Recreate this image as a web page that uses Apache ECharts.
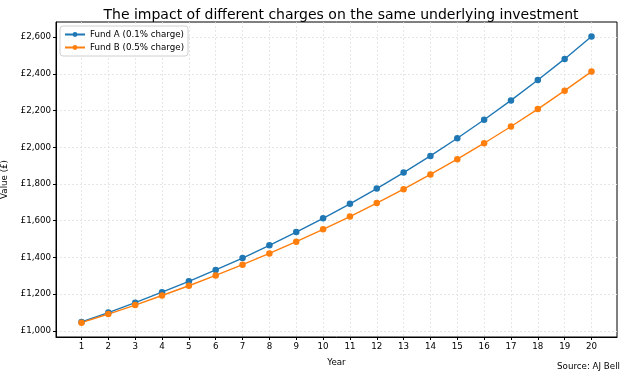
<!DOCTYPE html>
<html><head><meta charset="utf-8">
<script src="https://cdn.jsdelivr.net/npm/echarts@6/dist/echarts.min.js"></script>
<style>html,body{margin:0;padding:0;background:#fff}#c{width:626px;height:378px}</style>
</head><body><div id="c"></div>
<script>
const years = [1,2,3,4,5,6,7,8,9,10,11,12,13,14,15,16,17,18,19,20];
const fundA = [1049,1100,1154,1211,1270,1332,1397,1466,1538,1613,1692,1775,1862,1953,2049,2150,2255,2366,2481,2603];
const fundB = [1045,1092,1141,1193,1246,1302,1361,1422,1486,1553,1623,1696,1772,1852,1935,2022,2113,2208,2308,2412];
const yTicks = [1000,1200,1400,1600,1800,2000,2200,2400,2600];
const seriesNames = ['Fund A (0.1% charge)','Fund B (0.5% charge)'];
const font = 'DejaVu Sans';
const fs = 8.7;
const chart = echarts.init(document.getElementById('c'), null, {renderer:'canvas'});
const fmt = v => '£' + Math.round(v).toLocaleString('en-GB');
const gridLine = {show:true, lineStyle:{color:'#e0e0e0', type:[2,2], width:0.8}};
chart.setOption({
  animation:false,
  textStyle:{fontFamily:font},
  title:{text:'The impact of different charges on the same underlying investment', left:336, textAlign:'center', top:3,
    textStyle:{fontFamily:font, fontSize:14, fontWeight:'normal', color:'#000'}},
  graphic:[{type:'text', right:6, top:362, style:{text:'Source: AJ Bell', font:fs+'px DejaVu Sans', fill:'#000'}}],
  legend:{left:60, top:26, orient:'vertical', itemGap:4, itemWidth:20, itemHeight:6,
    backgroundColor:'rgba(255,255,255,0.8)', borderColor:'#d0d0d0', borderWidth:1, borderRadius:3, padding:[4,4,4,4],
    textStyle:{fontFamily:font, fontSize:fs, color:'#000'}, data:seriesNames},
  grid:{left:56, right:9, top:22, bottom:41, outerBoundsMode:'none', containLabel:false, show:true, borderColor:'#000', borderWidth:1, backgroundColor:'transparent'},
  xAxis:{type:'value', min:0.05, max:20.95, name:'Year', nameLocation:'middle', nameGap:21,
    nameTextStyle:{fontFamily:font, fontSize:fs, color:'#000'},
    axisLine:{show:true, lineStyle:{color:'#000'}},
    axisTick:{show:true, customValues:years, length:3, lineStyle:{color:'#000'}},
    axisLabel:{customValues:years, fontFamily:font, fontSize:fs, color:'#000', margin:5},
    splitLine:gridLine},
  yAxis:{type:'value', min:967, max:2682, name:'Value (£)', nameLocation:'middle', nameGap:44,
    nameTextStyle:{fontFamily:font, fontSize:fs, color:'#000'},
    axisLine:{show:true, lineStyle:{color:'#000'}},
    axisTick:{show:true, customValues:yTicks, length:3, lineStyle:{color:'#000'}},
    axisLabel:{customValues:yTicks, formatter:fmt, fontFamily:font, fontSize:fs, color:'#000', margin:5},
    splitLine:gridLine},
  series:[
    {name:seriesNames[0], type:'line', data:years.map((y,i)=>[y,fundA[i]]), symbol:'circle', symbolSize:6.5,
      itemStyle:{color:'#1f77b4'}, lineStyle:{color:'#1f77b4', width:1.4}},
    {name:seriesNames[1], type:'line', data:years.map((y,i)=>[y,fundB[i]]), symbol:'circle', symbolSize:6.5,
      itemStyle:{color:'#ff7f0e'}, lineStyle:{color:'#ff7f0e', width:1.4}}
  ]
});
</script></body></html>
